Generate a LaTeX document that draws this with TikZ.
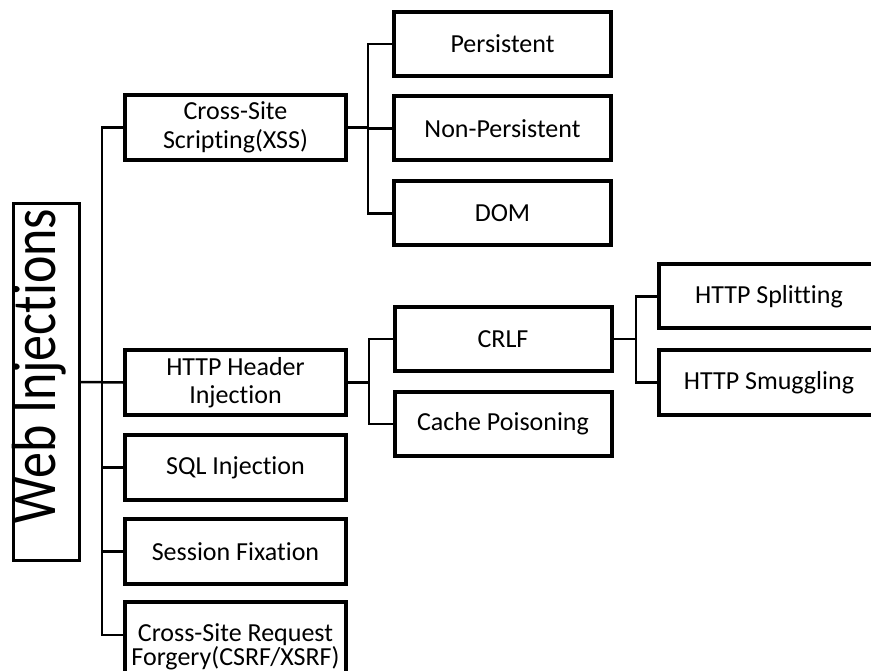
\documentclass[tikz,border=0pt]{standalone}
\usepackage{fontspec}
\setmainfont{Carlito}[Ligatures={NoCommon}]
\begin{document}
\begin{tikzpicture}[x=1pt,y=-1pt,
  box/.style={draw=black,line width=4pt,rectangle,inner sep=0pt,
    minimum width=217pt,minimum height=64pt,align=center,
    font=\fontsize{26}{29}\selectfont},
  rootbox/.style={draw=black,line width=3pt,rectangle,inner sep=0pt,
    minimum width=66pt,minimum height=357pt},
  conn/.style={draw=black,line width=2.5pt}]
\useasboundingbox (0,0) rectangle (871,671);
\clip (0,0) rectangle (871,671);
\fill[white] (0,0) rectangle (871,671);

% root
\node[rootbox] (root) at (46.5,382) {};
\node[rotate=90,anchor=base,inner sep=0pt,font=\fontsize{52}{60}\selectfont] (rootlabel) at (55,366) {\scalebox{1}[1.2]{Web Injections}};

% level 1
\node[box,minimum width=221pt,minimum height=65pt] (xss) at (235.5,127.5) {\raisebox{-2pt}{Cross-Site}\\\raisebox{-2pt}{Scripting(XSS)}};
\node[box,minimum width=221pt,minimum height=65pt,font=\fontsize{26}{28}\selectfont] (http) at (235.5,382.5) {HTTP Header\\Injection};
\node[box,minimum width=221pt,minimum height=65pt] (sql) at (235.5,467.5) {SQL Injection};
\node[box,minimum width=221pt,minimum height=65pt] (sess) at (235.5,551.5) {Session Fixation};
\node[box,minimum width=221pt,minimum height=90pt,font=\fontsize{26}{24}\selectfont] (csrf) at (235.5,647) {Cross-Site Request\\Forgery(CSRF/XSRF)};
\coordinate (csrfpt) at (123,635);
\coordinate (tk) at (102,0);

% XSS children
\node[box] (pers) at (502.5,44) {Persistent};
\node[box] (nonpers) at (502.5,128.5) {Non-Persistent};
\node[box] (dom) at (502.5,213.5) {DOM};
\coordinate (bx) at (368,0);

% HTTP children
\node[box] (crlf) at (503,339) {CRLF};
\node[box] (cache) at (503,424) {Cache Poisoning};
\coordinate (bh) at (369,0);

% CRLF children
\node[box,minimum width=220pt] (split) at (769,296.5) {HTTP Splitting};
\node[box,minimum width=220pt] (smug) at (769,382.5) {HTTP Smuggling};
\coordinate (bc) at (636,0);

% connectors: root trunk
\draw[conn] (root.east) -- (http.west);
\draw[conn] (xss.west) -- (xss.west -| tk) -- (csrfpt -| tk) -- (csrfpt);
\draw[conn] (sql.west) -- (sql.west -| tk);
\draw[conn] (sess.west) -- (sess.west -| tk);

% XSS bus
\draw[conn] (xss.east) -- (xss.east -| bx);
\draw[conn] (pers.west) -- (pers.west -| bx) -- (dom.west -| bx) -- (dom.west);
\draw[conn] (nonpers.west) -- (nonpers.west -| bx);

% HTTP bus
\draw[conn] (http.east) -- (http.east -| bh);
\draw[conn] (crlf.west) -- (crlf.west -| bh) -- (cache.west -| bh) -- (cache.west);

% CRLF bus
\draw[conn] (crlf.east) -- (crlf.east -| bc);
\draw[conn] (split.west) -- (split.west -| bc) -- (smug.west -| bc) -- (smug.west);
\end{tikzpicture}
\end{document}
